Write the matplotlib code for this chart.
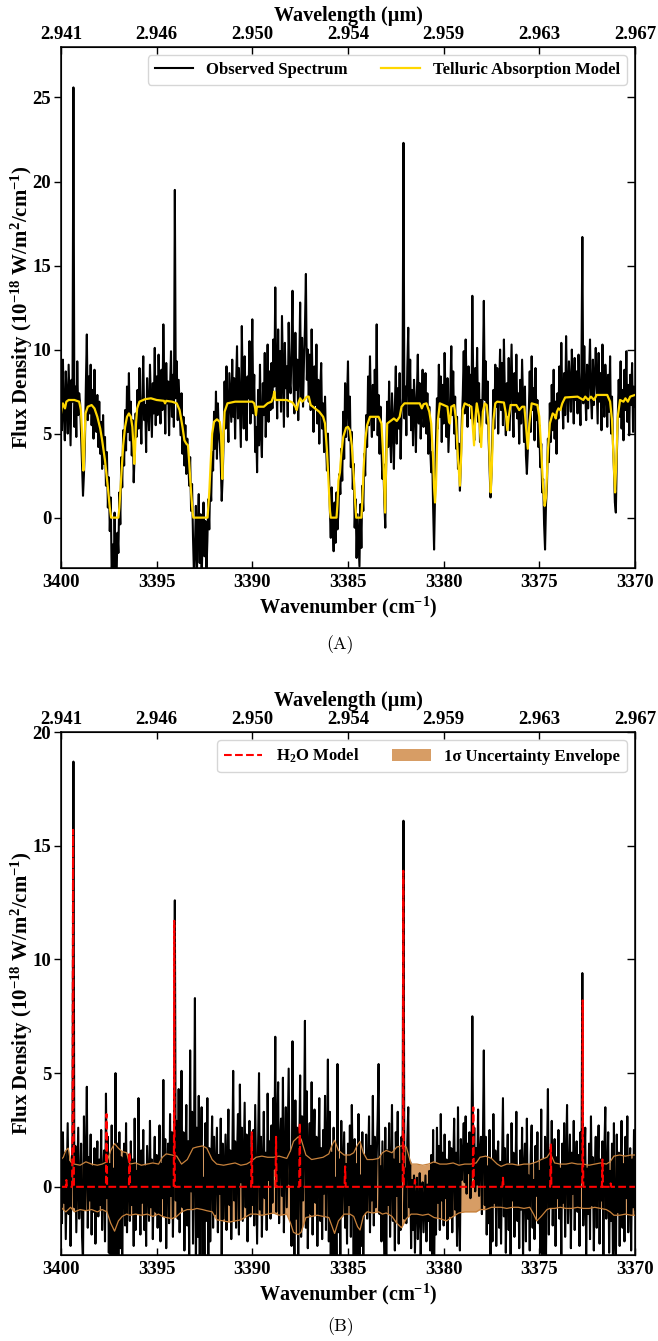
# Telluric correction figure: observed spectrum + telluric model (A), residual + H2O model (B)

import numpy as np
import matplotlib.pyplot as plt

plt.rcParams['font.family'] = 'serif'
plt.rcParams['font.serif'] = ['Liberation Serif', 'DejaVu Serif']
plt.rcParams['font.weight'] = 'bold'
plt.rcParams['mathtext.fontset'] = 'custom'
plt.rcParams['mathtext.rm'] = 'Liberation Serif'
plt.rcParams['mathtext.bf'] = 'Liberation Serif:bold'
plt.rcParams['mathtext.it'] = 'Liberation Serif:italic'
plt.rcParams['mathtext.default'] = 'bf'

# wavenumber grid of the spectra: starts at 3400 cm-1, 0.05 cm-1 per sample
wn_start = 3400.0
wn_step = 0.05

# panel A: observed spectrum (1e-18 W/m2/cm-1), 20 samples per row = 1 cm-1
obs_a = [
    8.1, 5.2, 9.4, 6.3, 4.6, 8.7, 7.2, 5.0, 9.1, 6.6, 4.3, 8.2, 6.9, 25.6, 5.4, 7.8, 4.8, 9.3, 6.1, 7.4,
    6.8, 4.9, 3.1, 1.3, 2.6, 4.4, 7.9, 10.9, 5.8, 8.4, 6.2, 9.1, 5.5, 7.6, 4.7, 8.8, 6.0, 5.1, 7.3, 4.2,
    6.9, 3.8, 5.7, 2.9, 6.1, 3.2, 4.8, 1.9, 3.9, 0.6, 2.4, -0.8, 1.2, -3.5, -1.6, -4.0, 0.3, -2.8, -3.8, -0.9,
    -2.1, 1.5, -0.4, 3.6, 1.8, 5.2, 3.1, 6.4, 4.0, 7.8, 5.1, 8.6, 4.6, 6.9, 3.7, 5.8, 2.1, 3.9, 6.2, 4.8,
    7.6, 5.3, 8.9, 6.1, 4.4, 7.2, 9.6, 5.8, 6.7, 3.9, 8.3, 6.5, 5.2, 9.1, 7.0, 4.8, 8.0, 6.2, 10.1, 5.5,
    8.4, 6.1, 9.7, 7.3, 5.6, 8.8, 6.4, 11.5, 7.9, 5.0, 9.2, 6.8, 8.1, 4.9, 7.7, 9.9, 6.0, 8.5, 5.4, 19.5,
    7.1, 9.3, 5.8, 8.2, 6.6, 4.9, 7.4, 3.8, 6.0, 3.1, 5.5, 2.6, 4.7, 3.4, 1.9, 3.6, 0.4, 2.0, -1.2, -3.4,
    -1.8, 0.7, -3.6, -0.5, 1.4, -2.7, 0.2, -3.9, -1.1, 0.9, -2.3, -0.2, -3.3, -1.4, 1.1, -0.7, 2.3, 1.0, 3.9, 2.8,
    6.3, 4.1, 7.5, 3.5, 6.8, 5.0, 4.4, 3.2, 1.0, 2.4, 4.6, 8.1, 5.3, 9.0, 6.4, 4.5, 8.6, 7.1, 5.7, 9.4,
    6.0, 8.3, 4.7, 7.8, 10.2, 5.9, 8.9, 6.6, 4.2, 11.4, 7.5, 5.3, 9.6, 6.8, 4.6, 8.4, 7.1, 10.5, 5.6, 7.9,
    11.8, 6.2, 8.5, 3.9, 5.4, 2.7, 7.6, 4.3, 9.1, 5.0, 3.6, 8.0, 6.1, 9.8, 4.8, 7.3, 10.3, 5.7, 8.7, 6.4,
    9.2, 6.5, 10.6, 7.8, 13.7, 8.3, 5.9, 11.2, 7.1, 9.9, 6.3, 12.0, 8.6, 5.4, 10.4, 7.7, 9.0, 6.0, 11.6, 8.1,
    7.4, 10.1, 13.5, 8.0, 6.2, 11.0, 7.6, 9.4, 5.8, 8.8, 12.8, 7.0, 10.7, 6.6, 9.3, 11.3, 14.5, 8.2, 10.0, 6.9,
    9.7, 6.4, 11.2, 7.9, 5.1, 9.0, 6.7, 10.3, 5.6, 8.2, 4.4, 7.5, 9.2, 5.3, 6.8, 3.9, 7.2, 4.6, 2.8, 5.0,
    3.1, 0.6, -1.2, 1.8, -0.4, -2.0, 0.9, -1.5, 1.5, -0.7, 0.3, 2.6, 1.4, 4.1, 2.2, 6.3, 3.5, 8.0, 4.8, 6.9,
    9.3, 4.6, 7.2, 3.0, 5.1, 1.7, 3.2, -0.6, 1.1, -2.4, 0.2, -1.3, -2.9, 0.8, -1.8, 1.9, 0.4, 3.8, 2.5, 6.1,
    4.2, 8.4, 5.5, 9.6, 6.3, 4.8, 7.9, 5.2, 8.8, 6.0, 11.5, 4.9, 7.3, 3.8, 6.6, 4.1, 2.3, 3.2, 0.9, -0.6,
    3.6, 6.9, 4.2, 8.1, 5.0, 3.3, 7.4, 5.8, 2.9, 6.5, 9.0, 4.4, 7.7, 5.3, 8.6, 3.5, 6.2, 7.1, 22.3, 5.9,
    7.8, 4.9, 8.9, 11.3, 6.1, 9.4, 5.2, 7.6, 4.3, 8.2, 6.8, 3.9, 7.3, 9.7, 5.6, 8.0, 4.7, 6.5, 8.8, 5.4,
    6.2, 8.6, 5.0, 7.4, 3.8, 6.6, 4.1, 2.7, 3.9, 0.6, -1.9, 1.4, 4.6, 7.1, 5.3, 9.1, 6.0, 8.4, 4.5, 7.9,
    5.6, 9.8, 7.0, 4.8, 8.3, 3.9, 5.7, 7.5, 10.2, 6.1, 8.7, 5.0, 7.2, 4.1, 6.0, 2.9, 4.4, 1.6, 3.3, 5.8,
    7.3, 9.9, 6.2, 10.6, 7.8, 5.4, 9.0, 6.8, 8.5, 5.9, 13.2, 7.5, 4.6, 8.9, 6.3, 10.1, 5.7, 8.0, 4.5, 7.0,
    5.2, 8.4, 12.9, 7.0, 9.3, 5.6, 8.1, 4.7, 3.0, 1.2, 2.6, 4.9, 7.6, 5.3, 9.1, 6.6, 8.9, 5.0, 7.7, 10.0,
    6.4, 9.2, 5.5, 10.6, 7.3, 4.9, 8.0, 6.1, 9.5, 5.2, 7.9, 10.3, 6.7, 4.8, 8.6, 6.3, 9.7, 5.9, 7.4, 4.4,
    8.2, 5.6, 9.4, 6.9, 4.5, 7.8, 3.7, 2.6, 4.0, 6.2, 8.7, 5.1, 9.6, 6.4, 7.7, 4.6, 8.9, 5.8, 7.0, 4.2,
    5.5, 3.0, 4.4, 1.5, 2.3, -0.4, -1.9, 0.8, 1.9, 4.7, 3.3, 6.8, 4.5, 7.9, 5.2, 8.8, 4.7, 6.9, 3.8, 7.4,
    5.9, 9.0, 6.6, 10.4, 7.2, 5.3, 8.6, 6.1, 10.8, 7.5, 5.7, 9.3, 7.9, 6.3, 10.0, 8.1, 5.6, 9.5, 7.0, 8.7,
    6.2, 9.7, 7.4, 5.5, 8.8, 16.7, 6.8, 10.2, 7.6, 5.8, 9.1, 6.5, 8.4, 10.6, 7.1, 5.9, 9.4, 6.7, 8.2, 10.1,
    7.8, 5.6, 9.8, 6.9, 8.6, 5.2, 10.3, 7.4, 6.0, 9.1, 7.7, 5.4, 8.5, 6.3, 9.6, 5.0, 7.2, 4.4, 2.9, 0.9,
    0.3, 3.6, 5.8, 8.2, 6.0, 9.3, 5.3, 7.6, 4.6, 8.8, 6.4, 9.9, 5.7, 7.9, 4.9, 8.5, 6.7, 9.2, 5.1, 7.8,
    6.6,
]

# panel A: telluric absorption model, vertices (wavenumber, flux)
telluric_wn = [
    3400.00, 3399.95, 3399.90, 3399.84, 3399.79, 3399.72, 3399.60, 3399.30, 3399.05, 3398.96,
    3398.90, 3398.86, 3398.83, 3398.80, 3398.76, 3398.72, 3398.60, 3398.40, 3398.25, 3398.10,
    3397.95, 3397.85, 3397.70, 3397.55, 3397.45, 3397.38, 3397.00, 3396.95, 3396.85, 3396.75,
    3396.65, 3396.55, 3396.45, 3396.35, 3396.27, 3396.21, 3396.17, 3396.13, 3396.08, 3396.02,
    3395.90, 3395.60, 3395.30, 3395.00, 3394.62, 3394.56, 3394.50, 3394.20, 3393.95, 3393.80,
    3393.65, 3393.55, 3393.45, 3393.36, 3393.30, 3393.20, 3393.12, 3393.08, 3392.34, 3392.25,
    3392.18, 3392.10, 3392.00, 3391.85, 3391.70, 3391.63, 3391.57, 3391.52, 3391.45, 3391.30,
    3390.90, 3390.00, 3389.90, 3389.85, 3389.81, 3389.76, 3389.40, 3389.20, 3389.00, 3388.90,
    3388.85, 3388.80, 3388.20, 3387.90, 3387.75, 3387.68, 3387.60, 3387.50, 3387.40, 3387.30,
    3387.15, 3387.05, 3386.95, 3386.50, 3386.30, 3386.20, 3386.10, 3386.00, 3385.94, 3385.90,
    3385.60, 3385.55, 3385.50, 3385.42, 3385.35, 3385.25, 3385.10, 3385.00, 3384.90, 3384.80,
    3384.70, 3384.62, 3384.57, 3384.30, 3384.25, 3384.18, 3384.10, 3384.00, 3383.85, 3383.40,
    3383.25, 3383.15, 3383.06, 3383.00, 3382.95, 3382.60, 3382.45, 3382.30, 3382.20, 3382.05,
    3381.25, 3381.14, 3381.05, 3380.90, 3380.75, 3380.65, 3380.55, 3380.50, 3380.45, 3380.40,
    3380.35, 3380.30, 3380.20, 3379.80, 3379.72, 3379.67, 3379.60, 3379.45, 3379.35, 3379.25,
    3379.15, 3379.08, 3379.00, 3378.90, 3378.55, 3378.45, 3378.41, 3378.35, 3378.27, 3378.15,
    3378.04, 3377.95, 3377.85, 3377.75, 3377.65, 3377.58, 3377.54, 3377.49, 3377.40, 3377.30,
    3377.20, 3376.85, 3376.75, 3376.67, 3376.60, 3376.50, 3376.20, 3376.05, 3375.90, 3375.78,
    3375.70, 3375.60, 3375.52, 3375.40, 3375.10, 3375.00, 3374.90, 3374.80, 3374.72, 3374.65,
    3374.55, 3374.45, 3374.30, 3374.20, 3374.14, 3374.08, 3374.00, 3373.90, 3373.80, 3373.65,
    3373.00, 3372.70, 3372.60, 3372.44, 3372.30, 3372.14, 3372.00, 3371.45, 3371.30, 3371.20,
    3371.10, 3371.04, 3370.98, 3370.90, 3370.78, 3370.60, 3370.50, 3370.37, 3370.25, 3370.00,
]
telluric_flux = [
    6.2, 6.6, 6.8, 6.6, 6.5, 6.9, 7.0, 7.0, 6.9, 6.4,
    5.0, 3.5, 2.8, 3.4, 5.0, 6.2, 6.6, 6.7, 6.5, 6.0,
    5.3, 4.6, 3.4, 1.8, 0.6, 0.0, 0.0, 0.6, 2.5, 4.3,
    5.4, 6.0, 6.2, 6.0, 5.4, 4.2, 3.2, 4.0, 5.6, 6.5,
    6.9, 7.05, 7.1, 7.0, 6.95, 6.8, 6.95, 6.9, 6.8, 6.4,
    5.4, 4.6, 4.4, 4.3, 3.3, 1.5, 0.3, 0.0, 0.0, 1.5,
    3.2, 5.0, 5.7, 5.85, 5.7, 5.0, 2.3, 4.5, 6.3, 6.8,
    6.9, 6.9, 6.8, 6.5, 6.1, 6.6, 6.6, 6.8, 6.9, 7.2,
    7.5, 7.0, 7.0, 6.85, 6.6, 6.4, 6.8, 7.1, 6.9, 7.0,
    7.2, 7.2, 6.7, 6.3, 6.0, 5.6, 4.0, 1.8, 0.4, 0.0,
    0.0, 0.8, 2.2, 2.7, 3.8, 4.8, 5.35, 5.4, 5.2, 4.3,
    2.5, 0.8, 0.0, 0.0, 1.0, 3.0, 4.6, 5.5, 6.0, 6.0,
    5.6, 3.5, 0.3, 3.5, 5.6, 5.9, 5.75, 6.0, 6.6, 6.8,
    6.8, 6.5, 6.75, 6.8, 6.3, 5.6, 3.5, 1.8, 0.9, 1.9,
    4.0, 5.8, 6.8, 6.6, 5.7, 5.6, 6.6, 6.7, 5.8, 3.5,
    1.9, 3.8, 6.4, 6.8, 6.6, 4.9, 4.3, 5.8, 6.8, 6.0,
    4.2, 6.3, 6.8, 6.7, 5.5, 2.8, 1.5, 2.8, 5.8, 6.8,
    6.9, 6.85, 6.2, 5.2, 6.0, 6.7, 6.7, 6.4, 6.6, 6.6,
    5.5, 4.1, 5.6, 6.8, 6.7, 6.0, 4.0, 1.8, 0.7, 1.2,
    4.0, 5.6, 6.2, 6.1, 5.9, 6.3, 6.5, 6.4, 6.8, 7.15,
    7.2, 7.0, 7.2, 7.0, 7.2, 7.0, 7.3, 7.3, 6.9, 5.8,
    3.0, 1.5, 3.2, 6.0, 7.0, 6.9, 7.1, 6.9, 7.2, 7.3,
]

# panel B: telluric-corrected residual spectrum on the same grid
obs_b = [
    0.9, -1.6, 2.4, -0.7, 1.5, -2.3, 0.3, 2.8, -1.2, 1.1, -2.6, 0.6, 2.1, 18.7, -0.9, 1.8, -2.0, 0.4, 2.6, -1.4,
    -0.3, 1.9, -2.2, -3.4, 3.1, -1.0, 0.7, 4.4, -1.8, 1.3, -0.6, 2.3, -2.1, 0.9, -1.1, 1.7, -2.5, 0.2, 2.0, -1.3,
    1.2, -0.8, 2.5, -1.9, 0.4, 1.6, -2.4, 4.1, -0.5, 2.2, -2.9, 1.0, -3.8, 2.7, -4.2, 0.8, -3.1, 5.0, -4.5, 1.9,
    -3.6, 2.4, -2.7, 1.3, -3.2, 0.5, 1.9, -1.7, 2.8, -2.0, 0.6, 1.4, -1.5, 2.0, -0.8, 1.2, -2.6, 3.0, -1.9, 0.7,
    -1.2, 3.9, 0.4, -2.1, 1.6, -0.7, 2.5, -1.9, 0.9, -2.6, 1.8, 0.1, -1.5, 2.9, -0.9, 1.2, -2.3, 0.5, 2.2, -1.1,
    1.4, -1.8, 0.6, 2.7, -2.4, 1.0, -0.5, 4.7, -1.3, 2.1, -2.7, 0.8, 1.9, -1.6, 3.2, -0.4, 2.4, -2.2, 1.5, 12.6,
    -0.6, 2.9, -1.4, 4.3, -2.0, 1.2, 5.1, -0.9, 2.4, -2.8, 0.7, 3.6, -1.7, 2.0, -3.1, 6.0, -0.2, 3.3, -2.5, 1.6,
    8.3, -3.9, 2.6, -2.2, 4.0, -4.6, 1.1, 3.5, -3.3, 0.4, -4.0, 2.8, -1.5, 3.9, -3.6, 1.7, -2.4, 0.9, 3.1, -1.8,
    2.2, -1.2, 0.8, 2.6, -2.0, 1.4, -0.3, 3.0, -3.2, 1.9, -1.4, 0.5, 2.3, -1.9, 1.0, 3.4, -0.8, 1.6, -2.3, 0.9,
    5.1, -0.6, 2.0, -1.8, 1.3, 3.2, -2.1, 4.5, 0.2, 2.6, -1.5, 1.1, 3.7, -0.9, 2.3, -2.4, 0.6, 2.9, -1.3, 1.7,
    -0.8, 2.5, -1.7, 3.6, 0.4, -2.5, 1.8, 5.0, -1.0, 2.2, -2.2, 0.9, 3.3, -0.5, 1.5, -1.9, 4.1, 0.3, 2.0, -1.4,
    2.7, -0.7, 3.9, 0.8, 6.6, -1.1, 2.4, 4.6, -1.6, 1.9, 3.0, -0.4, 4.8, -2.0, 1.2, 3.5, -0.9, 2.1, 5.2, 0.1,
    1.5, -2.6, 6.4, 0.6, -3.1, 3.8, -1.4, 2.6, -3.3, 1.3, 4.9, -2.2, 3.1, -0.6, 2.0, 7.3, -1.8, 4.2, -2.7, 1.0,
    2.8, -1.2, 4.6, -2.1, 1.6, 3.4, -0.7, 2.2, -2.6, 0.9, 3.9, -1.5, 1.7, -2.3, 2.5, -0.3, 4.0, -1.9, 1.1, 5.6,
    -2.4, 3.3, -3.9, 1.5, -4.4, 2.6, -3.5, 0.4, -4.1, 5.4, -2.0, 1.2, -3.2, 2.9, -1.3, 0.6, 2.4, -1.8, 1.0, -2.5,
    1.9, -0.8, 2.7, -2.2, 3.6, 0.3, -3.4, 2.1, -4.3, 1.0, -3.0, 3.2, -4.6, 0.5, -2.6, 2.4, -3.7, 1.4, -1.1, 2.3,
    -1.4, 0.7, 3.1, -2.0, 1.8, -0.6, 4.0, -1.7, 2.2, -0.9, 1.3, 3.0, 5.4, -1.2, 0.9, -2.4, 2.0, -0.5, -3.2, 2.6,
    -3.3, 1.6, -0.8, 2.8, -2.2, 0.5, 3.6, -1.5, 1.2, -2.8, 2.4, -0.4, 3.3, -2.5, 1.0, -1.9, 2.2, 0.6, 16.1, -1.4,
    0.8, -1.6, 2.0, 3.5, -0.9, 1.1, -2.7, 0.3, -1.9, 0.5, -2.9, -0.6, 0.4, -2.3, -1.1, 0.6, -3.1, -0.3, 0.2, -2.0,
    -0.8, 0.5, -2.4, 0.1, -1.5, 0.7, -2.8, 1.4, -3.6, 2.5, -4.2, 1.0, -2.1, 2.6, -0.7, 1.8, -1.9, 3.2, -0.6, 1.5,
    -1.7, 2.3, -0.5, 1.2, -2.3, 0.6, 2.0, -1.3, 1.7, -2.0, 0.9, 3.0, -1.0, 1.5, -2.6, 3.5, -1.2, -2.8, 2.1, 0.3,
    1.3, 2.8, 0.2, 3.1, -0.3, 1.9, 0.6, 2.4, -0.5, 1.0, 7.5, 0.4, 2.6, -0.2, 1.7, 0.1, 3.4, -0.4, 1.4, 2.2,
    -1.2, 1.8, 6.0, -0.8, 2.2, -2.1, 0.9, -1.6, 2.5, -3.5, 1.2, -2.4, 3.2, -0.7, 1.6, -2.6, 0.8, 2.0, -1.8, 1.1,
    -2.5, 0.6, 3.9, -1.3, 1.7, -2.9, 0.4, 2.3, -1.9, 1.0, -3.0, 2.8, -0.6, 1.5, -2.2, 0.2, 3.3, -1.5, 0.9, -2.7,
    1.6, -1.0, 2.6, -3.2, 0.8, 1.9, -2.4, 3.0, -1.4, 0.5, -2.8, 1.4, 2.7, -1.8, 0.3, -2.3, 1.8, -0.4, 2.4, -1.6,
    0.7, -2.9, 3.4, -3.8, 1.2, -4.3, 2.2, -3.0, 0.9, 4.3, -2.1, 1.6, -0.9, 2.9, -1.7, 0.6, 2.1, -2.6, 1.3, -0.5,
    2.5, -1.4, 0.8, -3.1, 1.9, -0.7, 2.8, -2.2, 1.1, 3.6, -1.6, 0.4, 2.3, -2.7, 1.5, -0.3, 2.9, -1.9, 0.6, 2.0,
    -1.1, 1.4, -2.6, 2.4, 0.2, 9.4, -1.7, 1.0, 2.6, -3.0, 0.8, -1.2, 1.9, -2.3, 3.1, -0.8, 1.3, -2.8, 0.5, 2.2,
    -1.8, 0.9, 2.7, -2.5, 1.2, -0.6, 2.0, -3.2, 1.6, 3.5, -1.4, 0.3, 2.4, -2.9, 0.7, -1.5, 1.9, -3.4, 2.8, -2.2,
    -3.6, 2.3, -1.1, 1.5, -2.6, 0.8, 2.9, -1.8, 1.0, -2.4, 2.2, -0.5, 3.1, -2.0, 0.6, 1.7, -2.8, 1.2, -0.9, 2.5,
    -1.0,
]

# panel B: H2O emission model, vertices
h2o_wn = [
    3400.00, 3399.75, 3399.72, 3399.69, 3399.42, 3399.39, 3399.37, 3399.35, 3399.32, 3397.65,
    3397.62, 3397.59, 3396.45, 3396.42, 3396.39, 3394.11, 3394.09, 3394.08, 3394.07, 3394.05,
    3390.06, 3390.03, 3390.00, 3388.79, 3388.76, 3388.73, 3387.55, 3387.52, 3387.49, 3385.18,
    3385.15, 3385.12, 3382.14, 3382.12, 3382.11, 3382.10, 3382.08, 3381.53, 3381.50, 3381.47,
    3378.48, 3378.45, 3378.42, 3376.93, 3376.90, 3376.87, 3374.43, 3374.40, 3374.37, 3372.76,
    3372.74, 3372.73, 3372.72, 3372.70, 3371.73, 3371.70, 3371.67, 3371.30, 3371.27, 3371.24,
    3370.00,
]
h2o_flux = [
    0.0, 0.0, 0.3, 0.0, 0.0, 4.0, 15.7, 4.0, 0.0, 0.0,
    3.2, 0.0, 0.0, 1.5, 0.0, 0.0, 3.0, 11.7, 3.0, 0.0,
    0.0, 2.4, 0.0, 0.0, 2.2, 0.0, 0.0, 2.8, 0.0, 0.0,
    0.9, 0.0, 0.0, 3.5, 13.9, 3.5, 0.0, 0.0, 0.3, 0.0,
    0.0, 3.5, 0.0, 0.0, 0.4, 0.0, 0.0, 1.9, 0.0, 0.0,
    2.0, 8.2, 2.0, 0.0, 0.0, 1.2, 0.0, 0.0, 0.15, 0.0,
    0.0,
]

# panel B: 1-sigma uncertainty envelope
env_wn = [
    3400.00, 3399.88, 3399.75, 3399.62, 3399.50, 3399.30, 3399.00, 3398.70, 3398.40, 3398.10,
    3397.85, 3397.60, 3397.40, 3397.20, 3397.00, 3396.80, 3396.57, 3396.40, 3396.10, 3395.80,
    3395.50, 3395.20, 3394.90, 3394.70, 3394.50, 3394.20, 3393.95, 3393.70, 3393.40, 3393.10,
    3392.90, 3392.60, 3392.38, 3392.10, 3391.86, 3391.50, 3391.20, 3390.90, 3390.60, 3390.30,
    3390.10, 3389.80, 3389.50, 3389.20, 3388.90, 3388.60, 3388.20, 3388.00, 3387.85, 3387.60,
    3387.45, 3387.20, 3386.90, 3386.60, 3386.30, 3386.00, 3385.85, 3385.70, 3385.50, 3385.20,
    3384.90, 3384.70, 3384.50, 3384.37, 3384.20, 3384.00, 3383.70, 3383.40, 3383.20, 3383.00,
    3382.70, 3382.45, 3382.20, 3381.95, 3381.70, 3381.40, 3381.10, 3380.80, 3380.50, 3380.20,
    3379.85, 3379.50, 3379.20, 3378.90, 3378.60, 3378.30, 3378.10, 3377.80, 3377.50, 3377.20,
    3377.00, 3376.70, 3376.40, 3376.10, 3375.80, 3375.50, 3375.30, 3375.13, 3374.90, 3374.60,
    3374.44, 3374.20, 3373.90, 3373.60, 3373.30, 3373.00, 3372.70, 3372.40, 3372.10, 3371.80,
    3371.50, 3371.30, 3371.10, 3370.80, 3370.50, 3370.20, 3370.00,
]
env_upper = [
    1.2, 1.3, 1.6, 1.7, 1.1, 1.0, 0.95, 1.1, 1.0, 0.95,
    1.0, 1.1, 1.6, 1.9, 1.7, 1.55, 1.5, 1.0, 1.05, 0.95,
    1.0, 1.05, 1.0, 1.3, 1.45, 1.4, 1.35, 1.0, 1.2, 1.7,
    1.75, 1.8, 1.7, 1.2, 1.0, 0.95, 1.0, 1.05, 0.95, 1.0,
    1.1, 1.3, 1.35, 1.3, 1.3, 1.35, 1.25, 1.6, 2.0, 2.2,
    2.1, 1.4, 1.2, 1.25, 1.3, 1.45, 1.8, 2.05, 1.6, 1.4,
    1.4, 1.5, 1.85, 2.0, 1.5, 1.2, 1.2, 1.25, 1.5, 1.6,
    1.5, 1.75, 1.8, 1.75, 1.0, 1.0, 0.95, 1.0, 1.1, 1.0,
    1.0, 1.05, 0.95, 1.0, 1.0, 1.05, 1.3, 1.35, 1.25, 1.0,
    0.9, 1.0, 1.0, 0.95, 1.0, 1.0, 1.05, 1.1, 1.2, 1.3,
    1.5, 1.05, 1.0, 1.0, 1.05, 1.0, 1.0, 0.95, 1.0, 1.05,
    1.0, 1.1, 1.35, 1.4, 1.35, 1.4, 1.4,
]
env_lower = [
    -0.9, -1.0, -1.1, -1.0, -0.9, -1.1, -1.0, -1.05, -1.0, -1.1,
    -1.0, -1.1, -1.6, -1.95, -1.5, -1.3, -1.2, -1.25, -1.2, -1.25,
    -1.2, -1.3, -1.2, -1.3, -1.35, -1.4, -1.3, -1.1, -1.0, -1.0,
    -0.95, -1.0, -1.05, -1.1, -1.45, -1.5, -1.55, -1.5, -1.45, -1.3,
    -1.2, -1.2, -1.25, -1.2, -1.15, -1.25, -1.2, -1.6, -2.0, -2.1,
    -2.0, -1.35, -1.3, -1.25, -1.3, -1.35, -1.7, -2.05, -1.5, -1.2,
    -1.2, -1.3, -1.75, -1.9, -1.3, -1.1, -1.15, -1.1, -1.2, -1.15,
    -1.3, -1.6, -1.8, -1.4, -1.2, -1.2, -1.25, -1.2, -1.35, -1.4,
    -1.5, -1.3, -1.15, -1.1, -1.1, -1.1, -1.0, -1.0, -0.9, -0.9,
    -0.9, -0.95, -0.9, -0.9, -0.95, -0.9, -1.2, -1.5, -1.3, -1.0,
    -0.95, -0.95, -0.9, -0.95, -0.95, -0.9, -0.95, -0.95, -0.9, -0.95,
    -1.0, -1.1, -1.25, -1.25, -1.2, -1.25, -1.25,
]

xticks = [3400, 3395, 3390, 3385, 3380, 3375, 3370]
yticks_a = [0, 5, 10, 15, 20, 25]
yticks_b = [0, 5, 10, 15, 20]

wn = wn_start - wn_step * np.arange(len(obs_a))


def styleAxes(ax, ylim, yticks):
    ax.set_xlim(3400, 3370)
    ax.set_ylim(*ylim)
    ax.set_xticks(xticks)
    ax.set_yticks(yticks)
    ax.tick_params(axis='x', direction='in', length=5, width=1, labelsize=13.5, pad=4)
    ax.tick_params(axis='y', direction='out', length=5, width=1, labelsize=13.5, pad=2)
    for s in ax.spines.values():
        s.set_linewidth(1.1)
    ax.set_xlabel(r'Wavenumber (cm$^{-1}$)', fontsize=14.5, fontweight='bold', labelpad=3)
    ax.set_ylabel(r'Flux Density (10$^{-18}$ W/m$^{2}$/cm$^{-1}$)', fontsize=15,
                  fontweight='bold')
    ax.yaxis.set_label_coords(-0.046, 0.5)

    # right side ticks pointing in, no labels
    right = ax.secondary_yaxis('right')
    right.set_yticks(yticks)
    right.tick_params(direction='in', length=6, width=1, labelright=False)

    # top axis in wavelength
    top = ax.twiny()
    top.set_xlim(ax.get_xlim())
    top.set_xticks(xticks)
    top.set_xticklabels(['%.3f' % (1e4 / t) for t in xticks])
    top.tick_params(axis='x', direction='in', length=5, width=1, labelsize=13.5, pad=3)
    top.set_xlabel('Wavelength (µm)', fontsize=14.5, fontweight='bold', labelpad=3.5)
    return top


fig = plt.figure(figsize=(6.58, 13.41), dpi=100)
axA = fig.add_axes([0.0927, 0.5764, 0.8723, 0.3885])
axB = fig.add_axes([0.0927, 0.0641, 0.8723, 0.3900])

# panel A
axA.plot(wn, obs_a, color='black', lw=1.5, label='Observed Spectrum', zorder=2)
axA.plot(telluric_wn, telluric_flux, color='gold', lw=1.6,
         label='Telluric Absorption Model', zorder=3)
styleAxes(axA, (-3, 28), yticks_a)
axA.legend(loc='upper right', ncol=2, fontsize=12, handlelength=2.3,
           columnspacing=2.0, borderaxespad=0.5)

# panel B
env = axB.fill_between(env_wn, env_lower, env_upper, color='peru', alpha=0.8,
                       lw=0, zorder=1, label=r'1σ Uncertainty Envelope')
axB.plot(wn, obs_b, color='black', lw=1.5, zorder=2)
axB.plot(env_wn, env_upper, color='#C8823C', lw=0.9, zorder=3)
axB.plot(env_wn, env_lower, color='#C8823C', lw=0.9, zorder=3)
h2o, = axB.plot(h2o_wn, h2o_flux, color='red', ls='--', lw=1.5, zorder=4,
                label=r'H$_{2}$O Model')
styleAxes(axB, (-3, 20), yticks_b)
axB.legend(handles=[h2o, env], loc='upper right', ncol=2, fontsize=12,
           handlelength=2.3, columnspacing=2.0, borderaxespad=0.5)

fig.text(0.517, 0.519, '(A)', fontfamily='cmr10', fontsize=13,
         fontweight='normal', ha='center', va='center')
fig.text(0.517, 0.0104, '(B)', fontfamily='cmr10', fontsize=13,
         fontweight='normal', ha='center', va='center')

fig.savefig('out.png', dpi=100)
